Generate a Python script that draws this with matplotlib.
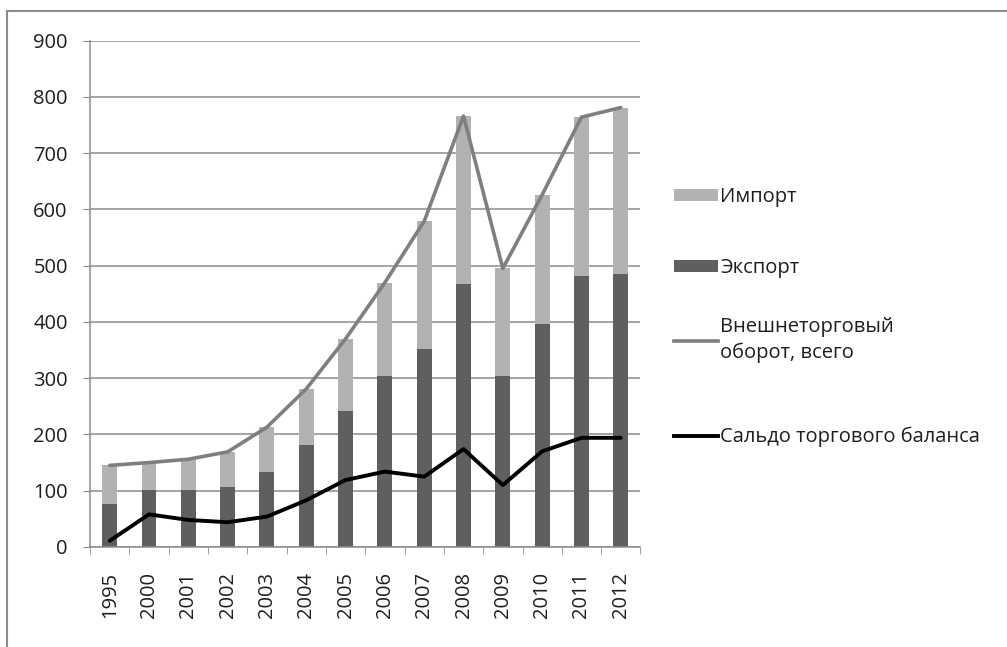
import numpy as np
import matplotlib.pyplot as plt
from matplotlib.patches import Patch
from matplotlib.lines import Line2D

plt.rcParams['font.family'] = ['Open Sans', 'DejaVu Sans']

years = ['1995', '2000', '2001', '2002', '2003', '2004', '2005',
         '2006', '2007', '2008', '2009', '2010', '2011', '2012']
export_vals = [77, 102, 102, 106, 134, 182, 242, 304, 352, 468, 304, 397, 481, 486]
import_vals = [68, 48, 54, 63, 79, 99, 128, 166, 227, 298, 191, 229, 283, 295]
turnover = [145, 150, 156, 169, 213, 281, 370, 470, 579, 766, 495, 626, 764, 781]
balance = [11, 58, 48, 44, 54, 83, 119, 134, 125, 174, 110, 170, 194, 194]

c_imp = '#b2b2b2'
c_exp = '#5f5f5f'
c_tot = '#7f7f7f'
c_bal = '#000000'
txt = '#1e1e1e'

fig = plt.figure(figsize=(10.07, 6.47), dpi=100)
ax = fig.add_axes([0.0894, 0.1546, 0.5466, 0.7826])

x = np.arange(len(years))
ax.grid(True, axis='y', color='#8c8c8c', linewidth=1.1, zorder=0)
ax.bar(x, export_vals, width=0.38, color=c_exp, zorder=2)
ax.bar(x, import_vals, width=0.38, bottom=export_vals, color=c_imp, zorder=2)
ax.plot(x, turnover, color=c_tot, linewidth=2.6, solid_joinstyle='round',
        solid_capstyle='round', zorder=3)
ax.plot(x, balance, color=c_bal, linewidth=2.8, solid_joinstyle='round',
        solid_capstyle='round', zorder=4)

ax.set_ylim(0, 900)
ax.set_yticks(range(0, 901, 100))
ax.set_xlim(-0.5, len(years) - 0.5)
ax.set_xticks(x)
ax.set_xticklabels(years, rotation=90)
ax.set_xticks(np.arange(-0.5, len(years), 1), minor=True)
ax.tick_params(axis='x', which='major', length=0, pad=18, labelsize=14.5, colors=txt)
ax.tick_params(axis='x', which='minor', length=5, color='#8c8c8c')
ax.tick_params(axis='y', length=5, color='#8c8c8c', labelsize=14.5, pad=11,
               labelcolor=txt)
for s in ['top', 'right']:
    ax.spines[s].set_visible(False)
for s in ['left', 'bottom']:
    ax.spines[s].set_color('#8c8c8c')
    ax.spines[s].set_linewidth(1.1)

# legend entries placed one by one, like in the source
entries = [
    (Patch(facecolor=c_imp), 'Импорт', 197),
    (Patch(facecolor=c_exp), 'Экспорт', 268),
    (Line2D([], [], color=c_tot, linewidth=2.6), 'Внешнеторговый\nоборот, всего', 340),
    (Line2D([], [], color=c_bal, linewidth=2.8), 'Сальдо торгового баланса', 437),
]
for h, lab, ypix in entries:
    leg = fig.legend([h], [lab], loc='center left',
                     bbox_to_anchor=(674 / 1007, 1 - ypix / 647),
                     frameon=False, fontsize=14.5, handlelength=2.2,
                     handleheight=0.55, handletextpad=0.1, borderpad=0,
                     borderaxespad=0)
    for t in leg.get_texts():
        t.set_linespacing(1.35)
        t.set_color(txt)

# outer frame
fig.add_artist(Line2D([7 / 1007, 1], [1 - 11 / 647, 1 - 11 / 647],
                      color='#8c8c8c', linewidth=1.5))
fig.add_artist(Line2D([7 / 1007, 7 / 1007], [0, 1 - 11 / 647],
                      color='#8c8c8c', linewidth=1.5))

fig.savefig('out.png', dpi=100)
